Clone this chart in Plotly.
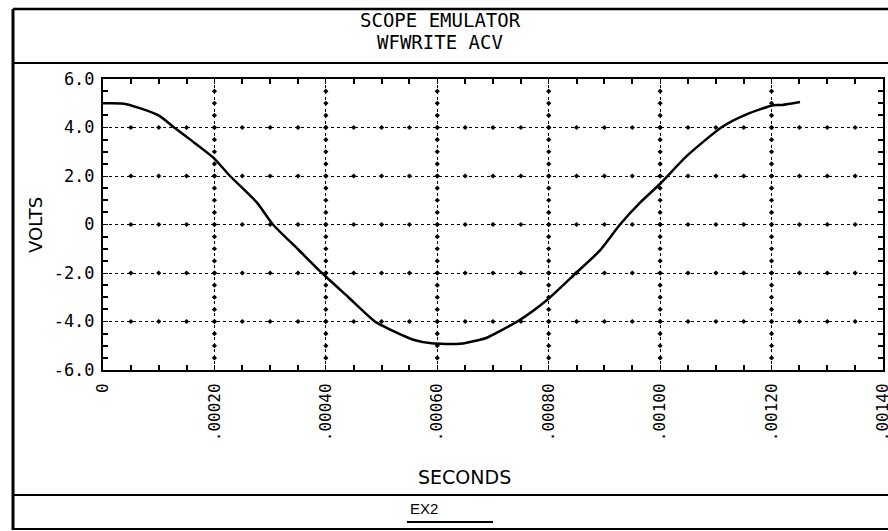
import numpy as np
import plotly.graph_objects as go

# Captured waveform (seconds, volts)
time_s = [0.0, 0.000034, 0.000066, 0.000102, 0.000126, 0.000156, 0.000198,
          0.000228, 0.000276, 0.000305, 0.000350, 0.000393, 0.000440, 0.000488,
          0.000528, 0.000557, 0.000590, 0.000640, 0.000677, 0.000689, 0.000745,
          0.000797, 0.000849, 0.000892, 0.000928, 0.000964, 0.001000, 0.001048,
          0.001111, 0.001156, 0.001203, 0.001219, 0.001251]
volts = [5.00, 4.99, 4.80, 4.47, 4.03, 3.51, 2.76,
         2.00, 0.91, 0.00, -1.02, -2.00, -2.99, -4.00,
         -4.47, -4.75, -4.90, -4.92, -4.75, -4.67, -3.98,
         -3.11, -2.00, -1.07, 0.00, 0.90, 1.68, 2.83,
         4.02, 4.55, 4.92, 4.93, 5.05]

# Axis ticks
x_ticks = [0.0, 0.0002, 0.0004, 0.0006, 0.0008, 0.0010, 0.0012, 0.0014]
x_labels = ["0", ".00020", ".00040", ".00060", ".00080", ".00100", ".00120", ".00140"]
y_ticks = [6, 4, 2, 0, -2, -4, -6]
y_labels = ["6.0", "4.0", "2.0", "0", "-2.0", "-4.0", "-6.0"]

X_MINOR = 0.00005
Y_MINOR = 0.5

W, H = 888, 531
ML, MR, MT, MB = 103, 5, 79, 161
PW, PH = W - ML - MR, H - MT - MB


def px(x):
    return (x - ML) / PW


def py(y):
    return (H - MB - y) / PH


MONO = "DejaVu Sans Mono"
SANS = "DejaVu Sans"

fig = go.Figure()

# Grid dots: markers along each interior grid line at the minor spacing
gx, gy = [], []
x_minor = np.arange(0, 0.0014 + 1e-9, X_MINOR)
y_minor = np.arange(-6, 6 + 1e-9, Y_MINOR)
for xv in x_ticks[1:-1]:
    for yv in y_minor[1:-1]:
        gx.append(xv)
        gy.append(yv)
for yv in y_ticks[1:-1]:
    for xv in x_minor[1:-1]:
        gx.append(xv)
        gy.append(yv)
fig.add_trace(go.Scatter(x=gx, y=gy, mode="markers",
                         marker=dict(symbol="diamond", size=4, color="black"),
                         hoverinfo="skip", showlegend=False))

fig.add_trace(go.Scatter(x=time_s, y=volts, mode="lines",
                         line=dict(color="black", width=2.5, shape="spline", smoothing=0.6),
                         showlegend=False))

axis_common = dict(
    showline=True, linecolor="black", linewidth=2, mirror="ticks",
    ticks="inside", ticklen=5, tickcolor="black", tickwidth=1,
    showgrid=True, gridcolor="black", gridwidth=1, griddash="dot",
    zeroline=False, ticklabeloverflow="allow", automargin=False,
)

# Minor tick marks along the frame
x_minor_ticks = [float(v) for v in x_minor if not np.any(np.isclose(v, x_ticks))]
y_minor_ticks = [float(v) for v in y_minor if not np.any(np.isclose(v, y_ticks))]

fig.update_xaxes(
    range=[0, 0.0014], tickmode="array", tickvals=x_ticks, ticktext=x_labels,
    tickangle=-90, tickfont=dict(family=MONO, size=16, color="black"),
    minor=dict(tickmode="array", tickvals=x_minor_ticks, ticks="inside",
               ticklen=5, tickwidth=2, tickcolor="black", showgrid=False),
    ticklabelstandoff=5,
    **axis_common,
)
fig.update_yaxes(
    range=[-6, 6], tickmode="array", tickvals=y_ticks, ticktext=y_labels,
    tickfont=dict(family=MONO, size=17, color="black"),
    minor=dict(tickmode="array", tickvals=y_minor_ticks, ticks="inside",
               ticklen=5, tickwidth=2, tickcolor="black", showgrid=False),
    ticklabelstandoff=3,
    **axis_common,
)

# Frame lines of the scope screen
shapes = []
for (x0, y0, x1, y1, w) in [
    (13, 9, 13, 530, 3),      # left border
    (13, 9, 900, 9, 2.5),     # top border
    (13, 63, 900, 63, 2),     # title separator
    (13, 495, 900, 495, 2),   # footer separator
    (13, 529, 900, 529, 2),   # bottom border
    (407, 522, 493, 522, 2),  # underline below the footer tag
]:
    shapes.append(dict(type="line", xref="paper", yref="paper",
                       x0=px(x0), y0=py(y0), x1=px(x1), y1=py(y1),
                       line=dict(color="black", width=w)))

annotations = [
    dict(text="SCOPE EMULATOR", x=px(440), y=py(20), font=dict(family=MONO, size=19)),
    dict(text="WFWRITE ACV", x=px(440), y=py(42), font=dict(family=MONO, size=19)),
    dict(text="VOLTS", x=px(35), y=py(225), textangle=-90, font=dict(family=SANS, size=18)),
    dict(text="SECONDS", x=px(464), y=py(477), font=dict(family=SANS, size=19)),
    dict(text="EX2", x=px(424), y=py(508), font=dict(family="Liberation Sans Narrow, Liberation Sans", size=15)),
]
for a in annotations:
    a.update(xref="paper", yref="paper", showarrow=False,
             xanchor="center", yanchor="middle")
    a["font"]["color"] = "black"

fig.update_layout(
    width=W, height=H,
    margin=dict(l=ML, r=MR, t=MT, b=MB, autoexpand=False),
    paper_bgcolor="white", plot_bgcolor="white",
    shapes=shapes, annotations=annotations,
    showlegend=False,
)

fig.write_html("out.html")
